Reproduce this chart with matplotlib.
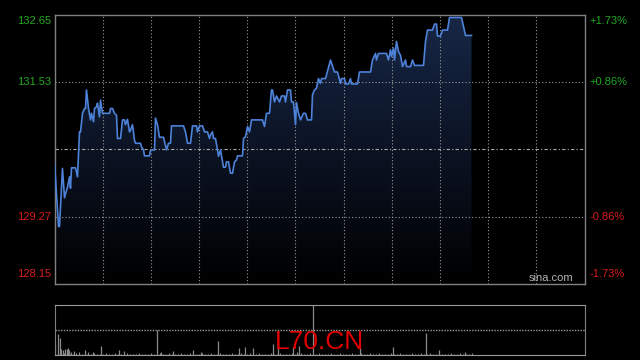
import numpy as np
import matplotlib
matplotlib.use('Agg')
import matplotlib.pyplot as plt

plt.rcParams['font.family'] = ['Liberation Sans', 'DejaVu Sans']

# price line, minutes from the open and price
t_min = [0, 4, 5, 8, 10, 13, 15, 16, 17, 21, 23, 25, 26, 28, 30, 31, 32, 34, 36, 37,
         39, 40, 42, 43, 45, 46, 48, 55, 56, 58, 60, 62, 63, 66, 68, 70, 71, 73, 75, 76,
         78, 80, 81, 86, 87, 89, 90, 95, 96, 100, 101, 103, 105, 109, 112, 114, 116, 117, 129, 131,
         133, 136, 138, 142, 143, 145, 148, 150, 153, 155, 156, 158, 159, 161, 163, 164, 166, 169, 171, 172,
         174, 176, 178, 180, 182, 183, 188, 189, 191, 193, 195, 197, 208, 210, 212, 215, 217, 218, 220, 222,
         225, 227, 230, 231, 233, 236, 237, 239, 241, 242, 244, 246, 247, 249, 251, 253, 257, 258, 260, 262,
         264, 266, 267, 271, 276, 280, 283, 286, 287, 290, 291, 294, 296, 297, 303, 305, 316, 318, 321, 322,
         324, 332, 334, 336, 337, 339, 340, 342, 344, 346, 348, 351, 352, 356, 358, 360, 369, 371, 373, 378,
         380, 382, 383, 386, 388, 393, 395, 407, 411, 417]
price = [130.19, 129.11, 129.11, 130.08, 129.59, 129.77, 129.94, 129.75, 130.09, 130.09, 129.94, 130.69, 130.69, 131.00, 131.08, 131.08, 131.39, 131.08, 130.89, 131.00,
         130.86, 131.08, 131.11, 131.17, 130.94, 131.22, 131.00, 131.00, 131.08, 131.08, 131.00, 130.97, 130.58, 130.58, 130.89, 130.89, 130.81, 130.90, 130.69, 130.72,
         130.81, 130.55, 130.50, 130.50, 130.44, 130.39, 130.29, 130.29, 130.38, 130.39, 130.92, 130.81, 130.60, 130.60, 130.39, 130.50, 130.50, 130.79, 130.79, 130.69,
         130.50, 130.50, 130.79, 130.79, 130.69, 130.79, 130.79, 130.69, 130.69, 130.58, 130.64, 130.69, 130.58, 130.58, 130.39, 130.28, 130.39, 130.10, 130.10, 130.19,
         130.19, 130.00, 130.00, 130.19, 130.22, 130.29, 130.29, 130.58, 130.61, 130.78, 130.69, 130.89, 130.89, 130.78, 131.00, 131.00, 131.39, 131.39, 131.19, 131.29,
         131.19, 131.29, 131.29, 131.19, 131.39, 131.39, 131.19, 131.19, 130.81, 131.18, 131.00, 130.89, 130.93, 131.00, 131.00, 130.89, 130.89, 131.31, 131.39, 131.42,
         131.58, 131.50, 131.58, 131.58, 131.89, 131.69, 131.69, 131.50, 131.58, 131.58, 131.49, 131.49, 131.58, 131.49, 131.49, 131.69, 131.69, 131.89, 132.00, 131.89,
         132.00, 132.00, 131.89, 132.06, 131.95, 132.09, 131.89, 132.20, 132.03, 131.97, 131.78, 131.89, 131.78, 131.78, 131.89, 131.80, 131.80, 132.20, 132.39, 132.39,
         132.49, 132.49, 132.29, 132.29, 132.39, 132.39, 132.60, 132.60, 132.30, 132.30]

prev_close = 130.40
y_ticks = [132.65, 131.53, 129.27, 128.15]
y_pct = ['+1.73%', '+0.86%', '-0.86%', '-1.73%']

# volume: small background bars every 3 minutes plus the bigger ones
vol_base_t = list(range(0, 418, 3))
vol_base = [150, 200, 120, 180, 250, 150, 100, 200, 150, 120, 180, 100, 150, 200, 120, 150, 100, 180, 120, 150,
            200, 100, 150, 120, 180, 150, 100, 120, 200, 150, 120, 100, 180, 150, 120, 200, 100, 150, 180, 120,
            150, 100, 200, 120, 150, 180, 100, 150, 120, 200, 150, 100, 180, 120, 150, 200, 100, 150, 120, 180,
            150, 100, 200, 150, 120, 180, 100, 150, 200, 120, 150, 100, 180, 120, 150, 200, 100, 150, 120, 180,
            150, 100, 200, 150, 120, 180, 100, 150, 200, 120, 150, 100, 180, 120, 150, 200, 100, 150, 120, 180,
            150, 100, 200, 150, 120, 180, 100, 150, 200, 120, 150, 100, 180, 120, 150, 200, 100, 150, 120, 180,
            150, 100, 200, 150, 120, 180, 100, 150, 200, 120, 150, 100, 180, 120, 150, 200, 100, 150, 120, 180]
vol_t = [0, 3, 5, 6, 8, 10, 12, 13, 14, 16, 19, 24, 30, 33, 38, 46, 64, 69, 102, 106,
         118, 138, 146, 163, 184, 190, 198, 218, 223, 238, 242, 244, 258, 305, 338, 371, 384, 410]
vol = [1100, 2100, 1700, 600, 500, 600, 600, 700, 500, 300, 400, 300, 500, 350, 300, 900, 500, 400, 2500, 300,
       400, 500, 300, 1400, 700, 800, 700, 1100, 700, 800, 300, 900, 5200, 800, 800, 2200, 500, 350]

fig = plt.figure(figsize=(6.4, 3.6), dpi=100, facecolor='black')
ax = fig.add_axes([54.5/640, 1-284/360, 530/640, 269.5/360], facecolor='black')
vax = fig.add_axes([54.5/640, 1-355/360, 530/640, 50.5/360], facecolor='black')

xmax = 530
ymin, ymax = 128.15, 132.65

# gradient under the line
grad = np.linspace(1, 0, 256).reshape(-1, 1)
top_col = np.array([0x17, 0x27, 0x47]) / 255.0
img = grad[..., None] * top_col[None, None, :]
im = ax.imshow(img, extent=[0, t_min[-1], ymin, ymax], aspect='auto', origin='upper', zorder=1)
poly = ax.fill_between(t_min, price, ymin, color='none', lw=0)
clip = poly.get_paths()[0]
im.set_clip_path(clip, transform=ax.transData)

ax.plot(t_min, price, color='#4d82d8', lw=1.2, zorder=3)

grid_x = np.linspace(0, xmax, 12)[1:-1]
for gx in grid_x:
    ax.axvline(gx, color='#9a9a9a', lw=0.8, ls=(0, (1, 2)), zorder=2)
for gy in [131.53, 129.27]:
    ax.axhline(gy, color='#9a9a9a', lw=0.8, ls=(0, (1, 2)), zorder=2)
ax.axhline(prev_close, color='#aaaaaa', lw=0.8, ls=(0, (3, 2, 1, 2)), zorder=2)

ax.set_xlim(0, xmax)
ax.set_ylim(ymin, ymax)
ax.set_xticks([])
ax.set_yticks([])
for s in ax.spines.values():
    s.set_color('#808080')
    s.set_linewidth(1)

green = '#22a822'
red = '#d81c1c'
vas = ['top', 'center', 'center', 'bottom']
for yv, pl, va in zip(y_ticks, y_pct, vas):
    c = green if yv > prev_close else red
    off = -0.02 if va == 'top' else (0.09 if va == 'bottom' else 0)
    ax.text(-3.5, yv + off, '%.2f' % yv, color=c, fontsize=8, ha='right', va=va, clip_on=False)
    ax.text(xmax + 5, yv + off, pl, color=c, fontsize=8, ha='left', va=va, clip_on=False)

ax.text(518.5, ymin + 0.02, 'sina.com', color='#b4b4b4', fontsize=8, ha='right', va='bottom')

# volume panel
vax.vlines(vol_base_t, 0, vol_base, color='#8a8a8a', lw=0.9)
vax.vlines(vol_t, 0, vol, color='#8a8a8a', lw=0.9)
vax.set_xlim(0, xmax)
vax.set_ylim(0, 5050)
vax.set_xticks([])
vax.set_yticks([])
vax.axhline(2525, color='#9a9a9a', lw=1, ls=(0, (1, 1)))
for side in ['top', 'bottom']:
    vax.spines[side].set_linestyle((0, (1, 1)))
    vax.spines[side].set_color('#9a9a9a')
for side in ['left', 'right']:
    vax.spines[side].set_color('#808080')

fig.text(319.5/640, 1-349/360, 'L70.CN', color='#e00000', fontsize=19, ha='center', va='baseline')

fig.savefig('out.png', dpi=100, facecolor='black')
